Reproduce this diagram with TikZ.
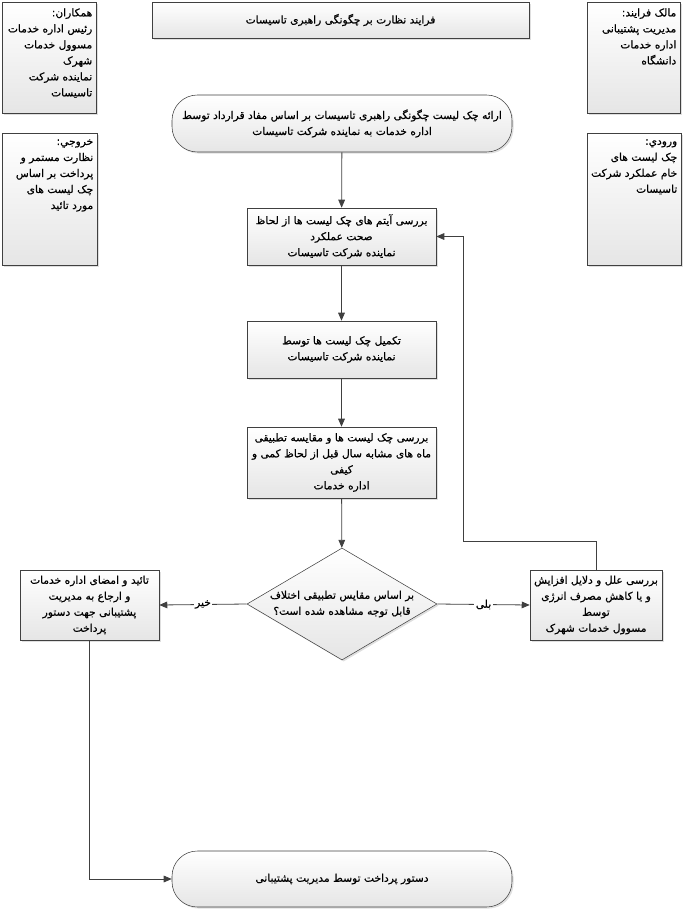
\documentclass[tikz,border=0pt]{standalone}
\usepackage{fontspec}
\newfontfamily\fafont[Script=Arabic, FakeBold=0.6]{DejaVu Sans}
\TeXXeTstate=1
\usetikzlibrary{arrows.meta, positioning, shapes.geometric, shadows}
\newcommand{\fatext}[1]{\beginR #1\endR}

\begin{document}
\begin{tikzpicture}[x=0.75pt, y=-0.75pt,
  font=\fafont\fontsize{8}{12}\selectfont,
  box/.style={rectangle, draw=black!75, top color=white, bottom color=black!10,
              minimum width=141.75pt, minimum height=42.75pt, align=center, inner sep=2pt,
              drop shadow={shadow xshift=1.2pt, shadow yshift=-1.2pt, opacity=0.25}},
  term/.style={box, rounded corners=19pt, minimum width=255pt},
  dec/.style={diamond, draw=black!75, top color=white, bottom color=black!10,
              minimum width=142.5pt, minimum height=84pt, inner sep=0pt,
              drop shadow={shadow xshift=1.2pt, shadow yshift=-1.2pt, opacity=0.25}},
  note/.style={box, minimum width=70.5pt, minimum height=83.25pt, anchor=north west},
  notetext/.style={anchor=north east, align=right, inner sep=3pt, yshift=-1.5pt},
  lbl/.style={fill=white, inner sep=1pt},
  arr/.style={-{Triangle[length=6pt, width=5pt]}, draw=black!75, line width=0.6pt}]
  \useasboundingbox (0,0) rectangle (684,910);

  % side notes
  \node[note] (colab) at (2,2) {};
  \node[notetext] (colabtxt) at (colab.north east)
    {\fatext{همکاران:}\\ \fatext{رئیس اداره خدمات}\\ \fatext{مسوول خدمات}\\
     \fatext{شهرک}\\ \fatext{نماینده شرکت}\\ \fatext{تاسیسات}};
  \node[note, minimum width=69.75pt] (owner) at (587,2) {};
  \node[notetext] (ownertxt) at (owner.north east)
    {\fatext{مالک فرایند:}\\ \fatext{مدیریت پشتیبانی}\\ \fatext{اداره خدمات}\\ \fatext{دانشگاه}};
  \node[note, minimum width=71.25pt, minimum height=99pt] (output) at (2,133) {};
  \node[notetext] (outputtxt) at (output.north east)
    {\fatext{خروجي:}\\ \fatext{نظارت مستمر و}\\ \fatext{پرداخت بر اساس}\\
     \fatext{چک لیست های}\\ \fatext{مورد تائید}};
  \node[note, minimum height=99pt] (input) at (587,133) {};
  \node[notetext] (inputtxt) at (input.north east)
    {\fatext{ورودي:}\\ \fatext{چک لیست های}\\ \fatext{خام عملکرد شرکت}\\ \fatext{تاسیسات}};

  % title
  \node[box, minimum width=282.75pt, minimum height=27pt] (title) at (340.5,20)
    {\fatext{فرایند نظارت بر چگونگی راهبری تاسیسات}};

  % flow
  \node[term] (start) at (342,123.5)
    {\fatext{ارائه چک لیست چگونگی راهبری تاسیسات بر اساس مفاد قرارداد توسط}\\
     \fatext{اداره خدمات به نماینده شرکت تاسیسات}};
  \node[box] (chk) at (341.5,236.5)
    {\fatext{بررسی آیتم های چک لیست ها از لحاظ}\\ \fatext{صحت عملکرد}\\
     \fatext{نماینده شرکت تاسیسات}};
  \node[box] (fill) at (341.5,349.5)
    {\fatext{تکمیل چک لیست ها توسط}\\ \fatext{نماینده شرکت تاسیسات}};
  \node[box, minimum height=53.25pt] (cmp) at (341.5,462.5)
    {\fatext{بررسی چک لیست ها و مقایسه تطبیقی}\\ \fatext{ماه های مشابه سال قبل از لحاظ کمی و}\\
     \fatext{کیفی}\\ \fatext{اداره خدمات}};
  \node[dec] (ask) at (342,604) {};
  \node[align=center] (asktxt) at (ask)
    {\fatext{بر اساس مقایس تطبیقی اختلاف}\\ \fatext{قابل توجه مشاهده شده است؟}};
  \node[box, minimum width=104.25pt, minimum height=52.5pt] (ok) at (89.5,605)
    {\fatext{تائید و امضای اداره خدمات}\\ \fatext{و ارجاع به مدیریت}\\
     \fatext{پشتیبانی جهت دستور}\\ \fatext{پرداخت}};
  \node[box, minimum width=99pt, minimum height=52.5pt] (why) at (596,605)
    {\fatext{بررسی علل و دلایل افزایش}\\ \fatext{و یا کاهش مصرف انرژی}\\
     \fatext{توسط}\\ \fatext{مسوول خدمات شهرک}};
  \node[term, minimum height=42pt] (done) at (342,879)
    {\fatext{دستور پرداخت توسط مدیریت پشتیبانی}};
  \coordinate (back) at (463,541);

  \draw[arr] (start) -- (chk);
  \draw[arr] (chk) -- (fill);
  \draw[arr] (fill) -- (cmp);
  \draw[arr] (cmp) -- (ask);
  \draw[arr] (ask.west) -- node[lbl] (no) {\fatext{خیر}} (ok.east);
  \draw[arr] (ask.east) -- node[lbl] (yes) {\fatext{بلی}} (why.west);
  \draw[arr] (why.north) -- (why.north |- back) -- (back) |- (chk.east);
  \draw[arr] (ok.south) |- (done.west);
\end{tikzpicture}
\end{document}
